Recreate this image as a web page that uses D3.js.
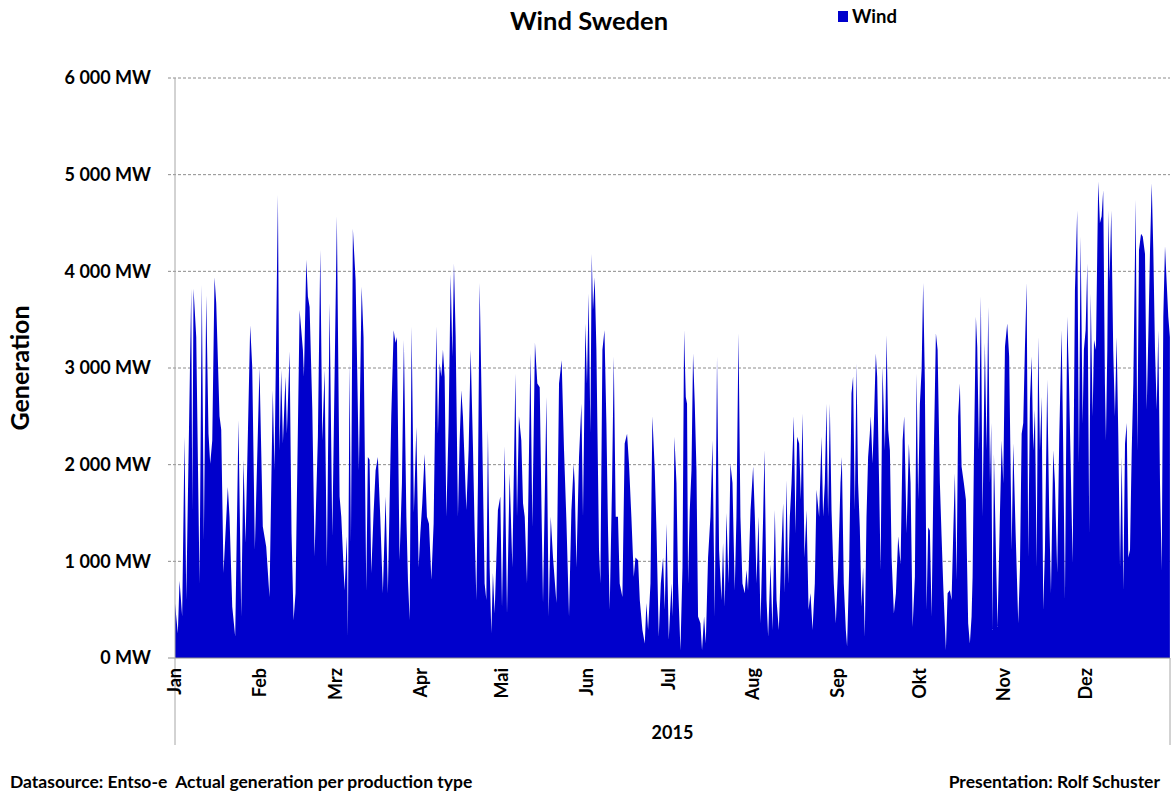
<!DOCTYPE html>
<html>
<head>
<meta charset="utf-8">
<script src="https://cdn.jsdelivr.net/npm/d3@7"></script>
<style>
	body { margin: 0; background: #fff; }
	text { font-family: Lato, "Open Sans", sans-serif; font-weight: bold; fill: #000; }
</style>
</head>
<body>
<div id="visHolder"></div>
<script>
// hourly wind generation in Sweden 2015 as [hour of year, MW]
const windSeries = [
	[0,565],[25,255],[40,800],[63,430],[84,2290],[99,600],[143,3820],[152,1530],[163,3820],[187,3320],[216,770],[236,3860],[254,1220],[275,3750],[295,2320],[310,2010],[328,2250],[348,3940],[363,3670],[392,2500],[407,2360],[427,880],[465,1770],[480,1460],[504,530],[530,220],[559,2460],[583,430],[603,2050],[621,1190],[662,3440],[680,3010],[703,1120],[744,3000],[773,1360],[803,1150],[832,630],[861,2770],
	[876,1940],[906,4790],[920,2150],[935,2980],[950,2220],[973,2910],[985,2320],[1009,3170],[1026,1290],[1044,390],[1061,670],[1097,3600],[1126,3190],[1135,2910],[1156,4120],[1170,3740],[1185,3630],[1209,2570],[1229,1050],[1258,2290],[1279,4220],[1297,2250],[1317,2980],[1337,940],[1361,3670],[1385,1260],[1425,4570],[1449,1670],[1464,1460],[1493,700],[1513,1260],[1522,220],[1537,3050],[1549,1190],[1566,4440],[1590,3910],[1601,3190],[1619,1940],[1643,3840],[1660,3320],[1684,700],[1698,2080],[1713,2050],[1728,880],[1748,1490],
	[1766,1940],[1786,2080],[1807,1460],[1830,670],[1854,1670],[1874,670],[1904,2500],[1925,3390],[1942,3260],[1954,3320],[1977,1010],[1998,1810],[2015,3290],[2037,1460],[2051,810],[2066,390],[2083,3430],[2103,1500],[2125,2390],[2145,940],[2160,1290],[2177,1600],[2198,2110],[2218,1460],[2236,1390],[2257,810],[2277,1390],[2301,3430],[2315,2320],[2330,3050],[2345,2910],[2359,3190],[2374,2910],[2389,1460],[2409,2430],[2427,3970],[2442,3120],[2456,4080],[2471,3320],[2491,1460],[2506,2250],[2521,2770],[2535,2500],[2565,1530],[2585,2150],[2603,3190],[2623,2200],
	[2638,1320],[2653,600],[2667,1810],[2682,3880],[2702,2500],[2726,770],[2741,600],[2755,2360],[2770,940],[2785,255],[2799,880],[2814,460],[2843,1530],[2864,1670],[2879,530],[2902,2190],[2923,460],[2946,1910],[2970,940],[2997,2940],[3011,1460],[3028,2500],[3049,2250],[3064,1600],[3079,1460],[3099,770],[3111,1670],[3129,3150],[3146,1350],[3169,3260],[3190,2840],[3211,2800],[3226,1600],[3240,570],[3270,2700],[3290,430],[3308,1460],[3328,1040],[3358,570],[3381,2840],[3404,3080],[3425,2150],[3446,1420],[3469,430],[3490,1530],[3510,2010],
	[3519,1810],[3534,940],[3557,2080],[3578,2630],[3592,1460],[3613,3460],[3627,2840],[3642,3770],[3657,2320],[3669,4180],[3680,3600],[3695,3940],[3710,3190],[3733,1120],[3745,770],[3763,3190],[3781,3390],[3798,2430],[3812,1350],[3827,500],[3848,1810],[3863,3120],[3880,1460],[3900,1460],[3915,770],[3939,630],[3959,2220],[3980,2320],[3997,2010],[4018,1460],[4039,840],[4054,1040],[4077,1010],[4092,600],[4115,290],[4136,150],[4150,570],[4165,290],[4186,770],[4203,2500],[4224,1940],[4239,1320],[4259,220],[4277,770],[4297,1040],[4312,500],[4327,1390],[4347,190],[4371,770],
	[4382,430],[4397,2290],[4415,1810],[4429,770],[4450,80],[4468,940],[4482,3390],[4497,2700],[4508,2630],[4517,770],[4532,1530],[4547,1940],[4561,3150],[4576,2630],[4591,1940],[4605,430],[4626,360],[4640,80],[4658,430],[4673,150],[4693,1040],[4714,1460],[4732,2250],[4752,430],[4772,3120],[4790,1120],[4811,600],[4825,1190],[4840,530],[4855,1500],[4873,770],[4890,2010],[4908,1810],[4928,700],[4943,1460],[4961,3360],[4978,1460],[4996,770],[5016,670],[5031,910],[5045,700],[5067,1530],[5090,1980],[5105,1460],[5120,770],[5137,1460],[5155,360],[5178,1460],[5190,2150],[5208,600],[5222,220],[5243,970],
	[5260,290],[5281,1530],[5296,600],[5316,290],[5334,970],[5354,1600],[5369,670],[5384,1840],[5398,770],[5413,1460],[5428,1810],[5448,2500],[5463,1290],[5477,2290],[5495,2220],[5510,1640],[5525,2530],[5542,1040],[5560,1530],[5578,500],[5595,670],[5613,290],[5633,770],[5648,1740],[5671,1460],[5692,2290],[5706,1460],[5721,1810],[5736,2630],[5750,1460],[5765,2630],[5780,1530],[5800,770],[5818,360],[5838,940],[5859,1810],[5871,2080],[5888,770],[5906,290],[5917,120],[5935,910],[5956,2740],[5970,2910],[5985,1530],[6000,3050],[6014,1810],[6029,1350],[6044,530],[6058,940],[6073,220],[6088,1460],[6102,2080],[6117,2320],
	[6126,2500],[6141,2010],[6153,2430],[6170,3150],[6182,2910],[6199,1810],[6212,910],[6229,3010],[6250,2150],[6265,3340],[6279,2360],[6294,2150],[6309,1040],[6329,460],[6347,670],[6367,1260],[6388,970],[6406,2250],[6420,2500],[6441,1290],[6461,2220],[6476,1810],[6494,320],[6514,840],[6529,2940],[6543,1640],[6558,2630],[6573,2980],[6587,3880],[6602,2840],[6617,500],[6631,1350],[6646,1320],[6661,430],[6681,2150],[6699,3360],[6714,3190],[6734,1810],[6749,1260],[6763,770],[6787,80],[6802,670],[6822,700],[6837,600],[6851,1260],[6866,1910],[6881,810],[6895,2500],[6910,2840],[6925,1980],[6945,1810],[6963,1640],[6983,360],[6998,150],[7013,430],
	[7022,840],[7033,2010],[7051,3530],[7063,3220],[7078,2150],[7095,3740],[7110,1460],[7130,3260],[7145,2150],[7160,3630],[7175,1810],[7186,2430],[7198,290],[7210,2110],[7227,1120],[7242,320],[7262,1460],[7278,2250],[7292,1810],[7307,3220],[7327,3460],[7344,3120],[7366,1120],[7380,2220],[7401,1290],[7424,360],[7439,940],[7454,2320],[7468,2430],[7483,3220],[7498,3880],[7512,1040],[7527,2670],[7542,3120],[7556,2150],[7571,2570],[7586,940],[7600,3320],[7615,2150],[7630,2700],[7644,500],[7659,1120],[7679,2880],[7697,1460],[7712,670],[7732,2150],[7747,1810],[7767,880],[7785,2290],[7806,3390],[7820,2150],[7835,600],[7855,3530],[7870,2910],
	[7903,980],[7923,3800],[7943,4630],[7958,2010],[7973,4360],[7991,2430],[8002,3190],[8017,3390],[8032,4080],[8049,1290],[8062,3770],[8079,2500],[8091,3290],[8108,3190],[8128,4930],[8143,4500],[8158,4570],[8172,4840],[8187,2840],[8196,2250],[8208,3190],[8218,4630],[8228,3900],[8243,4630],[8260,3190],[8275,2500],[8290,3320],[8305,2290],[8320,940],[8335,2080],[8349,700],[8364,2220],[8379,2430],[8393,1040],[8408,1120],[8423,2150],[8437,2840],[8458,4740],[8472,2150],[8487,4220],[8505,4390],[8520,4360],[8540,4180],[8555,2570],[8569,3320],[8584,4220],[8599,4910],[8613,4220],[8628,3190],[8643,2570],[8657,3390],[8672,1810],[8687,910],[8701,3530],[8716,4260],[8731,3880],[8745,3530],[8759,3320],
];

const monthLabels = ["Jan", "Feb", "Mrz", "Apr", "Mai", "Jun", "Jul", "Aug", "Sep", "Okt", "Nov", "Dez"];
const yTicks = [0, 1000, 2000, 3000, 4000, 5000, 6000];
const yearLabel = "2015";

const options = {
	width: 1174,
	height: 801,
	plot: { left: 175, right: 1170, top: 78, bottom: 658 },
	groupBottom: 745,
	color: "#0000cc",
};

WindChart(windSeries, options);

function WindChart(series, { width, height, plot, groupBottom, color }) {
	const start = Date.UTC(2015, 0, 1);
	const end = Date.UTC(2016, 0, 1);

	const svg = d3
		.select("#visHolder")
		.append("svg")
		.attr("width", width)
		.attr("height", height);

	//scales
	const x = d3
		.scaleUtc()
		.domain([new Date(start), new Date(end)])
		.range([plot.left, plot.right]);
	const y = d3.scaleLinear().domain([0, 6000]).range([plot.bottom, plot.top]);
	const toDate = (h) => new Date(start + h * 3600e3);

	//gridlines
	svg
		.append("g")
		.selectAll("line")
		.data(yTicks.filter((d) => d > 0))
		.join("line")
		.attr("x1", plot.left - 7)
		.attr("x2", plot.right)
		.attr("y1", (d) => y(d))
		.attr("y2", (d) => y(d))
		.attr("stroke", "#8c8c8c")
		.attr("stroke-dasharray", "3,2");

	//area
	const area = d3
		.area()
		.x((d) => x(toDate(d[0])))
		.y0(y(0))
		.y1((d) => y(d[1]));
	svg.append("path").datum(series).attr("d", area).attr("fill", color);

	//axis lines
	svg
		.append("line")
		.attr("x1", plot.left - 7)
		.attr("x2", plot.right)
		.attr("y1", y(0))
		.attr("y2", y(0))
		.attr("stroke", "#8c8c8c");
	svg
		.append("line")
		.attr("x1", plot.left)
		.attr("x2", plot.left)
		.attr("y1", plot.top)
		.attr("y2", groupBottom)
		.attr("stroke", "#a6a6a6");
	svg
		.append("line")
		.attr("x1", plot.right)
		.attr("x2", plot.right)
		.attr("y1", plot.bottom)
		.attr("y2", groupBottom)
		.attr("stroke", "#a6a6a6");

	//y tick labels
	const fmt = (d) => d3.format(",")(d).replace(",", " ") + " MW";
	svg
		.append("g")
		.selectAll("text")
		.data(yTicks)
		.join("text")
		.attr("x", plot.left - 24)
		.attr("y", (d) => y(d))
		.attr("dy", "0.35em")
		.attr("text-anchor", "end")
		.style("font-size", "18px")
		.text(fmt);

	//month labels
	const months = d3.utcMonth.range(new Date(start), new Date(end));
	svg
		.append("g")
		.selectAll("text")
		.data(months)
		.join("text")
		.attr("transform", (d) => `translate(${x(d)}, ${plot.bottom + 10}) rotate(-90)`)
		.attr("text-anchor", "end")
		.attr("dy", "0.35em")
		.style("font-size", "18px")
		.text((d, i) => monthLabels[i]);

	//year label
	svg
		.append("text")
		.attr("x", (plot.left + plot.right) / 2)
		.attr("y", 739)
		.attr("text-anchor", "middle")
		.style("font-size", "18px")
		.text(yearLabel);

	//y axis title
	svg
		.append("text")
		.attr("transform", `translate(29, ${(plot.top + plot.bottom) / 2}) rotate(-90)`)
		.attr("text-anchor", "middle")
		.style("font-size", "25px")
		.text("Generation");

	//title
	svg
		.append("text")
		.attr("x", 589)
		.attr("y", 30)
		.attr("text-anchor", "middle")
		.style("font-size", "25.5px")
		.text("Wind Sweden");

	//legend
	svg
		.append("rect")
		.attr("x", 838)
		.attr("y", 11)
		.attr("width", 10)
		.attr("height", 11)
		.attr("fill", color);
	svg
		.append("text")
		.attr("x", 852)
		.attr("y", 23)
		.style("font-size", "18.5px")
		.text("Wind");

	//footer
	svg
		.append("text")
		.attr("x", 10)
		.attr("y", 788)
		.style("font-size", "17.5px")
		.style("white-space", "pre")
		.text("Datasource: Entso-e  Actual generation per production type");
	svg
		.append("text")
		.attr("x", 1160)
		.attr("y", 788)
		.attr("text-anchor", "end")
		.style("font-size", "17.5px")
		.text("Presentation: Rolf Schuster");
}
</script>
</body>
</html>
